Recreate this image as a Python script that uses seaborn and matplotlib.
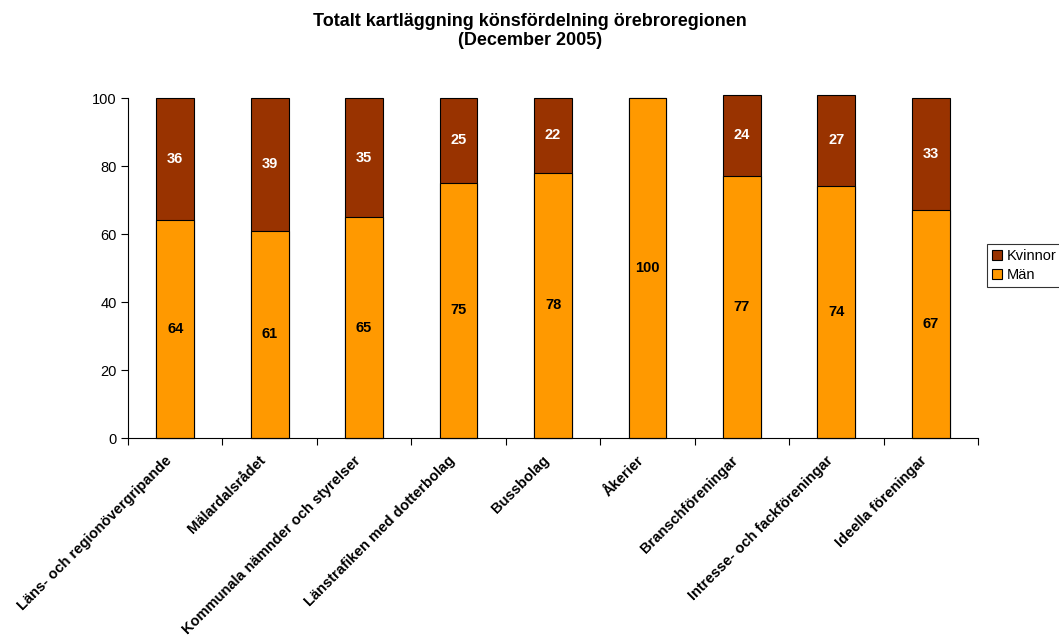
import matplotlib
matplotlib.use("Agg")
import matplotlib.pyplot as plt
import matplotlib.transforms as mtransforms
import seaborn as sns
import numpy as np
import pandas as pd
from matplotlib.patches import Patch

categories = ["Läns- och regionövergripande", "Mälardalsrådet", "Kommunala nämnder och styrelser",
              "Länstrafiken med dotterbolag", "Bussbolag", "Åkerier", "Branschföreningar",
              "Intresse- och fackföreningar", "Ideella föreningar"]
man = [64, 61, 65, 75, 78, 100, 77, 74, 67]
kvinnor = [36, 39, 35, 25, 22, 0, 24, 27, 33]
title = "Totalt kartläggning könsfördelning örebroregionen\n(December 2005)"

sns.set_theme(style="white")
plt.rcParams['font.family'] = ['Liberation Sans', 'DejaVu Sans']
plt.rcParams['text.color'] = 'black'
plt.rcParams['xtick.color'] = 'black'
plt.rcParams['ytick.color'] = 'black'
plt.rcParams['axes.labelcolor'] = 'black'

df = pd.DataFrame({"cat": categories, "Män": man, "Kvinnor": kvinnor})
df["total"] = df["Män"] + df["Kvinnor"]

fig = plt.figure(figsize=(10.59, 6.39), dpi=100)
ax = fig.add_axes([128/1059, 1-438/639, 850/1059, 343.4/639])

c_k = "#993300"
c_m = "#FF9900"
sns.barplot(data=df, x="cat", y="total", color=c_k, saturation=1, width=0.4,
            edgecolor="black", linewidth=0.8, ax=ax, clip_on=False)
sns.barplot(data=df, x="cat", y="Män", color=c_m, saturation=1, width=0.4,
            edgecolor="black", linewidth=0.8, ax=ax, clip_on=False)

ax.set_xlim(-0.5, len(categories) - 0.5)
ax.set_ylim(0, 101)
ax.set_yticks([0, 20, 40, 60, 80, 100])
ax.spines['left'].set_bounds(0, 100)
for s in ['top', 'right']:
    ax.spines[s].set_visible(False)
for s in ['left', 'bottom']:
    ax.spines[s].set_color('black')
    ax.spines[s].set_linewidth(0.8)
ax.set_xlabel("")
ax.set_ylabel("")

ax.tick_params(axis='y', which='major', left=True, length=5, width=0.8, color='black',
               labelsize=10.5, labelcolor='black', pad=3)
ax.set_xticks(range(len(categories)))
ax.set_xticklabels(categories, rotation=45, ha='right', rotation_mode='anchor',
                   fontweight='bold', fontsize=10.5, color='black')
ax.tick_params(axis='x', which='major', length=0, pad=11)
ax.set_xticks(np.arange(-0.5, len(categories), 1.0), minor=True)
ax.tick_params(axis='x', which='minor', bottom=True, length=5, width=0.8, color='black')
shift = mtransforms.ScaledTranslation(-11/100, 0, fig.dpi_scale_trans)
for lbl in ax.get_xticklabels():
    lbl.set_transform(lbl.get_transform() + shift)

for i, (m, k) in enumerate(zip(man, kvinnor)):
    if m > 0:
        ax.text(i, m / 2, str(m), ha='center', va='center', fontsize=10.5,
                fontweight='bold', color='black')
    if k > 0:
        ax.text(i, m + k / 2, str(k), ha='center', va='center', fontsize=10.5,
                fontweight='bold', color='white')

fig.text(530/1059, 1-13/639, title, ha='center', va='top', fontsize=13,
         fontweight='bold', linespacing=1.15, color='black')

handles = [Patch(facecolor=c_k, edgecolor='black', linewidth=0.8, label='Kvinnor'),
           Patch(facecolor=c_m, edgecolor='black', linewidth=0.8, label='Män')]
leg = fig.legend(handles=handles, loc='upper left', bbox_to_anchor=(987/1059, 1-244/639),
                 frameon=True, fancybox=False, edgecolor='black', fontsize=10.5,
                 handlelength=0.7, handleheight=0.7, handletextpad=0.3,
                 borderpad=0.35, labelspacing=0.35, borderaxespad=0)
leg.get_frame().set_linewidth(0.8)
for t in leg.get_texts():
    t.set_color('black')

fig.savefig("out.png", dpi=100)
